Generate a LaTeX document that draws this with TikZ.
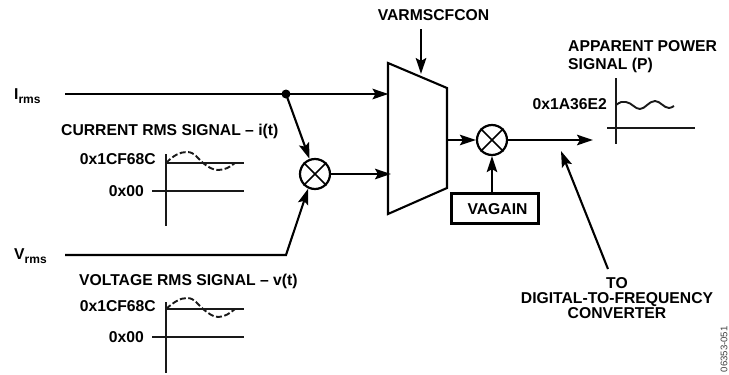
\documentclass[tikz,border=0pt]{standalone}
\usepackage{fontspec}
\setmainfont{Liberation Sans}
\usetikzlibrary{arrows.meta}
\newcommand{\lblsub}[2]{#1\raisebox{-0.28em}{\fontsize{12}{12}\selectfont\bfseries #2}}
\tikzset{
  wire/.style={line width=2.1pt,black},
  thin wire/.style={line width=1.6pt,black!90},
  sig/.style={wire,-{Stealth[length=16pt,width=10.5pt,inset=3pt]}},
  lbl/.style={inner sep=0pt,font=\fontsize{15.7}{17.5}\selectfont\bfseries,text=black},
  mult/.style={circle,draw,line width=2.2pt,minimum size=30pt,inner sep=0pt},
  dashwave/.style={line width=1.9pt,black!90,dash pattern=on 6pt off 2.5pt},
}
\begin{document}
\begin{tikzpicture}[x=1pt,y=-1pt]
\useasboundingbox (0,0) rectangle (729,375);
% labels
\node[lbl,anchor=west] (irms) at (14,96) {\lblsub{I}{rms}};
\node[lbl,anchor=west] (vrms) at (14,256) {\lblsub{V}{rms}};
\node[lbl,anchor=west] (cur) at (61,131) {CURRENT RMS SIGNAL -- i(t)};
\node[lbl,anchor=west] (vol) at (79,281) {VOLTAGE RMS SIGNAL -- v(t)};
\node[lbl,anchor=east] (c1) at (156,159) {0x1CF68C};
\node[lbl,anchor=east] (c0) at (144,191) {0x00};
\node[lbl,anchor=east] (v1) at (156,306) {0x1CF68C};
\node[lbl,anchor=east] (v0) at (144,337) {0x00};
\node[lbl,anchor=center] (vc) at (433.5,15) {VARMSCFCON};
\node[lbl,anchor=west,align=left] (app) at (568,57) {APPARENT POWER\\[0.5pt]SIGNAL (P)};
\node[lbl,anchor=east] (ap) at (607,104) {0x1A36E2};
\node[lbl,align=center] (to) at (617,298) {TO\\[-2pt]DIGITAL-TO-FREQUENCY\\[-3pt]CONVERTER};
\node[rotate=90,anchor=west,inner sep=0pt,font=\fontsize{9.6}{10}\selectfont,text=black!75] (stamp) at (724,372.5) {06353-051};
% nodes
\node[mult] (m1) at (315,174) {};
\node[mult] (m2) at (492,140) {};
\foreach \m in {m1,m2}{
  \draw[line width=1.7pt] (\m.45)--(\m.225) (\m.135)--(\m.315);
}
\node[draw,line width=2.2pt,minimum width=87pt,minimum height=30pt,inner sep=0pt] (gain) at (495,208.5) {};
\node[lbl] (gaintxt) at (497.5,209) {VAGAIN};
\coordinate (jn) at (286,94);
\coordinate (muxT) at (421,74);
\coordinate (muxA) at (388.5,94);
\coordinate (muxB) at (391,174);
\coordinate (muxO) at (447,140);
\draw[wire,line join=miter] (388,63) -- (447,88) -- (447,188) -- (388,214) -- cycle;
% connectors
\coordinate (irmsS) at (65,94);
\coordinate (vrmsS) at (65,255);
\coordinate (vk) at (286,255);
\draw[sig] (irmsS) -- (muxA);
\fill[black] (jn) circle (4.5pt);
\draw[sig] (jn) -- (m1);
\draw[sig,shorten >=0pt] (vrmsS) -- (vk) -- (m1.-115);
\draw[sig] (m1) -- (muxB);
\coordinate (vcS) at (421,29);
\draw[sig] (vcS) -- (muxT);
\draw[sig] (muxO) -- (m2);
\coordinate (outE) at (593,140);
\draw[sig] (m2) -- (outE);
\draw[sig] (gain.north -| m2) -- (m2);
\coordinate (toE) at (561,151);
\coordinate (toS) at (608,269);
\draw[sig] (toS) -- (toE);
% current graph
\draw[thin wire] (166,154) -- (166,226);
\draw[thin wire] (166,163) -- (244,163);
\draw[thin wire] (152,191) -- (244,191);
\draw[dashwave] (166,163) .. controls (174,155) and (180,152) .. (187,152) .. controls (195,152) and (198,159) .. (203,163) .. controls (208,167) and (213,170) .. (218,170) .. controls (225,170) and (230,167) .. (235,163);
% voltage graph
\draw[thin wire] (166,302) -- (166,373);
\draw[thin wire] (166,309) -- (244,309);
\draw[thin wire] (152,337) -- (244,337);
\draw[dashwave] (166,309) .. controls (174,302) and (180,298) .. (187,298) .. controls (195,298) and (198,305) .. (203,309) .. controls (208,313) and (213,317) .. (218,317) .. controls (225,317) and (230,313) .. (235,309);
% apparent graph
\draw[thin wire] (616,78) -- (616,144);
\draw[thin wire] (607,128) -- (695,128);
\draw[line width=1.9pt,black!90] (616,105) .. controls (620,102) and (623,101) .. (626,102) .. controls (632,103) and (635,109) .. (640,109) .. controls (645,109) and (649,101) .. (655,101) .. controls (660,101) and (664,108) .. (669,108) .. controls (671,108) and (672,107) .. (674,106);
\end{tikzpicture}
\end{document}
